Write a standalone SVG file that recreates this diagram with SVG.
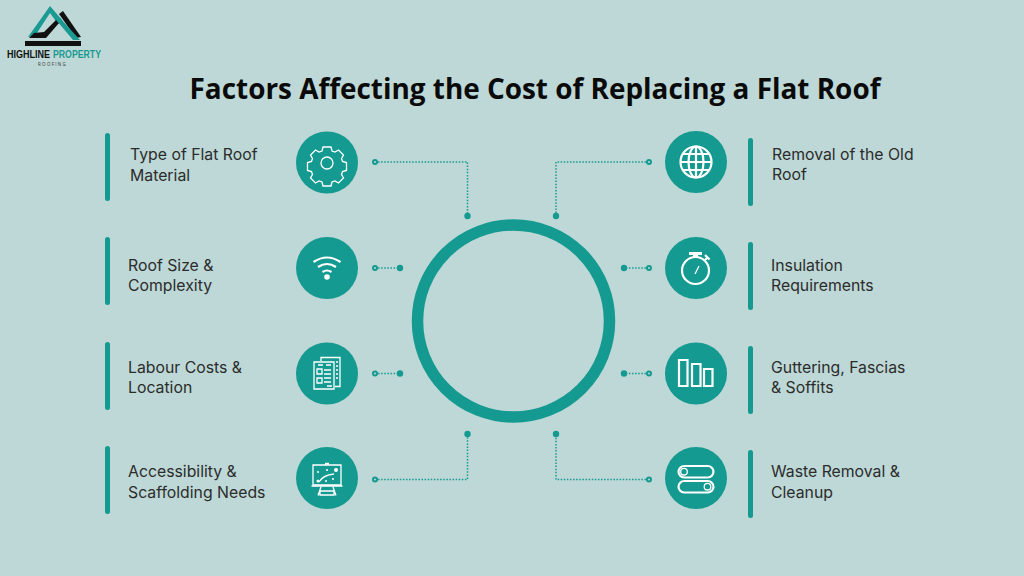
<svg xmlns="http://www.w3.org/2000/svg" width="1024" height="576" viewBox="0 0 1024 576">
<style>
text{font-family:"Open Sans","Noto Sans","Liberation Sans",sans-serif}
.lbl{font-family:Inter,"Open Sans","Liberation Sans",sans-serif;font-size:15.800px;fill:#2c2c2c}
.lg{font-family:"Liberation Sans",sans-serif;font-size:10.500px;font-weight:700}
.bar{fill:#149a90}
.disc{fill:#149a90}
.ic{fill:none;stroke:#fff;stroke-width:1.3}
.ics{fill:none;stroke:#fff;stroke-width:2.2}
.dot{fill:none;stroke:#149a90;stroke-width:1.5;stroke-dasharray:1.5 1.6}
.end{fill:#149a90}
.st{fill:#bdd8d6;stroke:#149a90;stroke-width:2}
</style>
<rect width="1024" height="576" fill="#bdd8d6"/>
<g id="logo">
<path d="M28 37 L50 6 L62 20 L58 24 L50 13 L35 36 Z" fill="#1a9a92"/>
<path d="M59 14 L63 11 L81 37 L76 38 Z" fill="#111"/>
<path d="M29 38 L34 33 L44 32 L56 20 L59 23 L46 38 Z" fill="#111"/>
<path d="M57 21 L60 18 L80 40 L73 40 Z" fill="#1a9a92"/>
<rect x="25" y="41" width="56" height="5" fill="#111"/>
<text class="lg" x="7" y="58" fill="#111" textLength="43" lengthAdjust="spacingAndGlyphs">HIGHLINE</text>
<text class="lg" x="53" y="58" fill="#1a9a92" textLength="48" lengthAdjust="spacingAndGlyphs">PROPERTY</text>
<text x="38" y="65.500" font-size="4.500" letter-spacing="1.300" fill="#333">ROOFING</text>
</g>
<text id="title" x="535" y="99" text-anchor="middle" font-size="27.900" font-weight="700" fill="#0a0a0a">Factors Affecting the Cost of Replacing a Flat Roof</text>
<g id="connectors">
<path class="dot" d="M375 162H467.500V216"/>
<path class="dot" d="M375 268H400"/>
<path class="dot" d="M375 373.500H400"/>
<path class="dot" d="M375 479.500H467.500V434"/>
<path class="dot" d="M649 162H556V216"/>
<path class="dot" d="M649 268H624"/>
<path class="dot" d="M649 373.500H624"/>
<path class="dot" d="M649 479.500H556V434"/>
<g class="end"><circle cx="467.500" cy="216" r="3.200"/><circle cx="400" cy="268" r="3.200"/><circle cx="400" cy="373.500" r="3.200"/><circle cx="467.500" cy="434" r="3.200"/><circle cx="556" cy="216" r="3.200"/><circle cx="624" cy="268" r="3.200"/><circle cx="624" cy="373.500" r="3.200"/><circle cx="556" cy="434" r="3.200"/></g>
<g class="st"><circle cx="375" cy="162" r="2"/><circle cx="375" cy="268" r="2"/><circle cx="375" cy="373.500" r="2"/><circle cx="375" cy="479.500" r="2"/><circle cx="649" cy="162" r="2"/><circle cx="649" cy="268" r="2"/><circle cx="649" cy="373.500" r="2"/><circle cx="649" cy="479.500" r="2"/></g>
</g>
<g id="hub"><circle cx="513.500" cy="321" r="96" fill="none" stroke="#149a90" stroke-width="11.500"/></g>
<g id="n1"><rect class="bar" x="105" y="133" width="5" height="68" rx="2.500"/><text class="lbl" x="130" y="160">Type of Flat Roof</text><text class="lbl" x="130" y="181">Material</text>
<circle class="disc" cx="327" cy="162.500" r="31"/>
<circle class="ic" cx="327" cy="163" r="6"/>
<path class="ic" d="M323 147h8l1 4 3 1 3.500-2 5 5-2 3.500 1 3 4 1v8l-4 1-1 3 2 3.500-5 5-3.500-2-3 1-1 4h-8l-1-4-3-1-3.500 2-5-5 2-3.500-1-3-4-1v-8l4-1 1-3-2-3.500 5-5 3.500 2 3-1z"/></g>
<g id="n2"><rect class="bar" x="105" y="237" width="5" height="68" rx="2.500"/><text class="lbl" x="128" y="271">Roof Size &amp;</text><text class="lbl" x="128" y="291">Complexity</text>
<circle class="disc" cx="327" cy="268" r="31"/>
<path class="ics" d="M313.500 262q13.500-9 27 0M318 267q9-6 18 0M322.500 272q4.500-3 9 0"/><circle cx="327" cy="277" r="2.800" fill="#fff"/></g>
<g id="n3"><rect class="bar" x="105" y="342" width="5" height="68" rx="2.500"/><text class="lbl" x="128" y="373">Labour Costs &amp;</text><text class="lbl" x="128" y="393">Location</text>
<circle class="disc" cx="327" cy="373.500" r="31"/>
<path class="ic" d="M321 361v-3.500h19v29h-5M314 362h20v27h-20zM318 365h5M326 365h5M324 370h7M324 374h7M324 378h7M324 382h7M327 386h5M336 362h2M336 366h2M336 370h2M336 374h2M336 378h2"/>
<path class="ic" d="M317 369h5v5h-5zM317 378h5v5h-5z"/></g>
<g id="n4"><rect class="bar" x="105" y="446" width="5" height="68" rx="2.500"/><text class="lbl" x="128" y="477">Accessibility &amp;</text><text class="lbl" x="128" y="498">Scaffolding Needs</text>
<circle class="disc" cx="327" cy="478" r="31"/>
<path class="ic" d="M313 465h28v20h-28zM311.500 486h31M325 463.500h4M321 487l-3 8.500M333 487l3 8.500M320 491h14v4h-14z"/>
<path class="ic" d="M319 482q4-7 15-8"/><circle cx="318" cy="481" r="1.500" fill="#fff"/><circle cx="336" cy="470" r="2" fill="#fff"/><circle cx="318" cy="472" r="1" fill="#fff"/><circle cx="327" cy="470" r="1" fill="#fff"/><circle cx="333" cy="479" r="1" fill="#fff"/><circle cx="326" cy="481" r="1" fill="#fff"/></g>
<g id="n5"><rect class="bar" x="748" y="138" width="5" height="68" rx="2.500"/><text class="lbl" x="772" y="160">Removal of the Old</text><text class="lbl" x="772" y="180">Roof</text>
<circle class="disc" cx="696" cy="162" r="31"/>
<g class="ics"><circle cx="696" cy="162" r="15.500"/><ellipse cx="696" cy="162" rx="7.500" ry="15.500"/><path d="M696 146.500v31M680.500 162h31M683 154h26M683 170h26"/></g></g>
<g id="n6"><rect class="bar" x="748" y="242" width="5" height="68" rx="2.500"/><text class="lbl" x="771" y="271">Insulation</text><text class="lbl" x="771" y="291">Requirements</text>
<circle class="disc" cx="696" cy="268" r="31"/>
<circle class="ics" cx="695.500" cy="270.500" r="13.500"/><path d="M689 252h13v3h-4v3h-5v-3h-4z" fill="#fff"/><path class="ic" d="M695 274l4-8"/><path class="ics" d="M705 260l3-3M705 255l4.500 4.500"/></g>
<g id="n7"><rect class="bar" x="748" y="346" width="5" height="68" rx="2.500"/><text class="lbl" x="771" y="373">Guttering, Fascias</text><text class="lbl" x="771" y="393">&amp; Soffits</text>
<circle class="disc" cx="696" cy="373.500" r="31"/>
<path class="ics" d="M679 360h8.500v26h-8.500zM692 364h8.500v22h-8.500zM704 369h8.500v17h-8.500z"/></g>
<g id="n8"><rect class="bar" x="748" y="450" width="5" height="68" rx="2.500"/><text class="lbl" x="771" y="477">Waste Removal &amp;</text><text class="lbl" x="771" y="498">Cleanup</text>
<circle class="disc" cx="696" cy="478" r="31"/>
<rect class="ics" x="678.500" y="466" width="35" height="11.500" rx="5.700"/><rect class="ics" x="678.500" y="481" width="35" height="11.500" rx="5.700"/>
<circle class="ic" cx="684" cy="471.700" r="3.300"/><circle class="ic" cx="707.500" cy="486.700" r="3.300"/></g>
</svg>
